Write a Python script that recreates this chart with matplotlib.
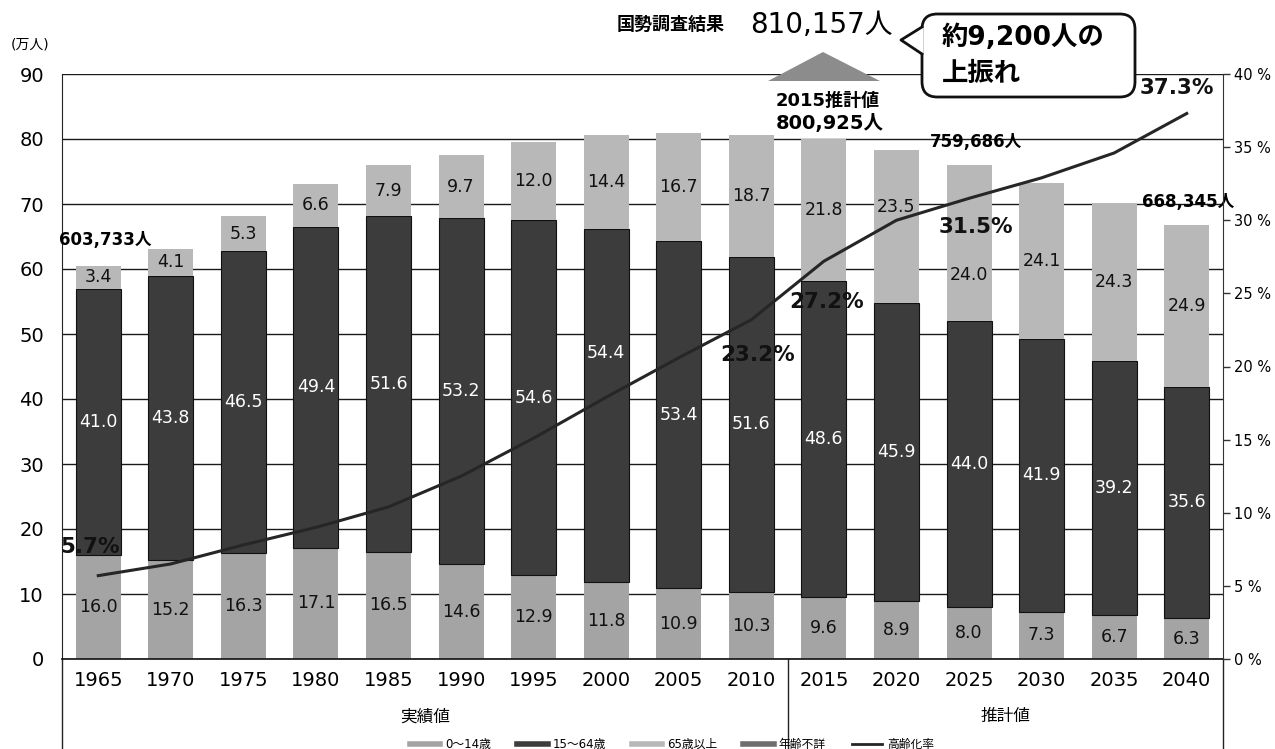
import matplotlib.pyplot as plt
from matplotlib.lines import Line2D
from matplotlib.patches import Polygon, FancyBboxPatch

plt.rcParams['font.family'] = ['DejaVu Sans', 'Noto Sans CJK JP']

# 年齢3区分別人口（万人）と高齢化率（%）
years = ['1965', '1970', '1975', '1980', '1985', '1990', '1995', '2000',
         '2005', '2010', '2015', '2020', '2025', '2030', '2035', '2040']
young = [16.0, 15.2, 16.3, 17.1, 16.5, 14.6, 12.9, 11.8, 10.9, 10.3,
         9.6, 8.9, 8.0, 7.3, 6.7, 6.3]
working = [41.0, 43.8, 46.5, 49.4, 51.6, 53.2, 54.6, 54.4, 53.4, 51.6,
           48.6, 45.9, 44.0, 41.9, 39.2, 35.6]
elderly = [3.4, 4.1, 5.3, 6.6, 7.9, 9.7, 12.0, 14.4, 16.7, 18.7,
           21.8, 23.5, 24.0, 24.1, 24.3, 24.9]
aging_rate = [5.7, 6.5, 7.8, 9.0, 10.4, 12.5, 15.1, 17.9, 20.6, 23.2,
              27.2, 30.0, 31.5, 32.9, 34.6, 37.3]
legend_labels = ['0～14歳', '15～64歳', '65歳以上', '年齢不詳', '高齢化率']

c_young = '#a4a4a4'
c_work = '#3c3c3c'
c_old = '#b8b8b8'
c_unknown = '#6e6e6e'

W, H = 1275, 749
fig = plt.figure(figsize=(W / 100, H / 100), dpi=100)
L, R, T, B = 62, 1223, 74, 659
ax = fig.add_axes([L / W, 1 - B / H, (R - L) / W, (B - T) / H])

x = list(range(len(years)))
bw = 0.62
bottom2 = [a + b for a, b in zip(young, working)]
ax.bar(x, young, bw, color=c_young, zorder=2)
ax.bar(x, working, bw, bottom=young, color=c_work, edgecolor='#111111', lw=0.8, zorder=2)
ax.bar(x, elderly, bw, bottom=bottom2, color=c_old, zorder=2)

ax.set_xlim(-0.5, len(years) - 0.5)
ax.set_ylim(0, 90)
ax.set_yticks(range(0, 91, 10))
ax.set_xticks(x)
ax.set_xticklabels(years, fontsize=14)
ax.tick_params(axis='y', length=0, pad=13, labelsize=14)
ax.tick_params(axis='x', length=0, pad=9)
ax.yaxis.grid(True, color='#1a1a1a', lw=1.0)
ax.set_axisbelow(True)
for s in ['top', 'right']:
    ax.spines[s].set_visible(False)
ax.spines['left'].set_color('#222222')
ax.spines['bottom'].set_color('#111111')
ax.spines['bottom'].set_linewidth(1.2)

# 各区分の数値
for i in x:
    ax.text(i, young[i] / 2, f'{young[i]:.1f}', ha='center', va='center',
            fontsize=12.5, color='#111111', zorder=5)
    ym = young[i] + working[i] / 2
    if years[i] == '2000':
        ym += 8
    ax.text(i, ym, f'{working[i]:.1f}', ha='center', va='center',
            fontsize=12.5, color='white', zorder=5)
    yo = bottom2[i] + elderly[i] / 2
    if years[i] == '2025':
        yo -= 5
    elif years[i] == '2020':
        yo += 3
    ax.text(i, yo, f'{elderly[i]:.1f}', ha='center', va='center',
            fontsize=12.5, color='#111111', zorder=5)

# 高齢化率（右軸）
ax2 = ax.twinx()
ax2.set_ylim(0, 40)
ax2.plot(x, aging_rate, color='#262626', lw=2.2, zorder=4)
ax2.set_yticks(range(0, 41, 5))
ax2.set_yticklabels([f'{v} %' for v in range(0, 41, 5)], fontsize=10.5)
ax2.tick_params(axis='y', length=5, width=1, pad=3, color='#333333')
for s in ['top', 'left', 'bottom']:
    ax2.spines[s].set_visible(False)
ax2.spines['right'].set_linestyle((0, (3, 1)))
ax2.spines['right'].set_color('#333333')

# 高齢化率の数値
pct_labels = {0: (-0.11, 17.2), 9: (9.08, 46.8), 10: (10.04, 54.9),
              12: (12.1, 66.5), 15: (14.87, 87.8)}
for i, (px, py) in pct_labels.items():
    ax.text(px, py, f'{aging_rate[i]}%', ha='center', va='center',
            fontsize=15.5, fontweight='bold', color='#111111', zorder=6)

# 総人口
ax.text(0.1, 64.5, '603,733人', ha='center', va='center', fontsize=12,
        fontweight='bold', zorder=6)
ax.text(12.1, 79.5, '759,686人', ha='center', va='center', fontsize=12,
        fontweight='bold', zorder=6)
ax.text(15.02, 70.3, '668,345人', ha='center', va='center', fontsize=12,
        fontweight='bold', zorder=6)

# 実績値・推計値の区切り
for xv in [-0.5, 9.5, 15.5]:
    ax.plot([xv, xv], [0, -14.5], color='#222222', lw=1.0, clip_on=False)
ax.text(4.5, -8.8, '実績値', ha='center', va='center', fontsize=12)
ax.text(12.5, -8.8, '推計値', ha='center', va='center', fontsize=12)

fig.text(30 / W, 1 - 45 / H, '(万人)', ha='center', va='center', fontsize=10)


def fx(px):
    return px / W


def fy(py):
    return 1 - py / H


# 国勢調査結果
fig.text(fx(671), fy(25), '国勢調査結果', ha='center', va='center',
         fontsize=13, fontweight='bold')
fig.text(fx(821), fy(25), '810,157人', ha='center', va='center', fontsize=20)
tri = Polygon([(fx(823), fy(52)), (fx(768), fy(81)), (fx(880), fy(81))],
              closed=True, facecolor='#8c8c8c', edgecolor='none',
              transform=fig.transFigure)
fig.patches.append(tri)
fig.text(fx(828), fy(101), '2015推計値', ha='center', va='center',
         fontsize=13, fontweight='bold')
fig.text(fx(830), fy(123), '800,925人', ha='center', va='center',
         fontsize=14, fontweight='bold')

# 吹き出し
box = FancyBboxPatch((fx(922), fy(97)), fx(1135) - fx(922), fy(14) - fy(97),
                     boxstyle='round,pad=0,rounding_size=0.012',
                     facecolor='white', edgecolor='#111111', lw=2,
                     transform=fig.transFigure, mutation_aspect=W / H)
fig.patches.append(box)
notch_fill = Polygon([(fx(923.5), fy(27)), (fx(901), fy(40)), (fx(923.5), fy(54))],
                     closed=True, facecolor='white', edgecolor='none',
                     transform=fig.transFigure)
fig.patches.append(notch_fill)
fig.add_artist(Line2D([fx(922), fx(901), fx(922)], [fy(27), fy(40), fy(54)],
                      color='#111111', lw=2, transform=fig.transFigure))
fig.text(fx(942), fy(38), '約9,200人の', ha='left', va='center',
         fontsize=19, fontweight='bold')
fig.text(fx(942), fy(74), '上振れ', ha='left', va='center',
         fontsize=19, fontweight='bold')

# 凡例
handles = [Line2D([], [], color=c_young, lw=4),
           Line2D([], [], color=c_work, lw=4),
           Line2D([], [], color=c_old, lw=4),
           Line2D([], [], color=c_unknown, lw=4),
           Line2D([], [], color='#262626', lw=2)]
fig.legend(handles, legend_labels, loc='center', ncol=5,
           bbox_to_anchor=(0.527, 0.006), fontsize=8.5, frameon=False,
           handlelength=2.6, columnspacing=2.2, handletextpad=0.4)

fig.savefig('out.png', dpi=100)
